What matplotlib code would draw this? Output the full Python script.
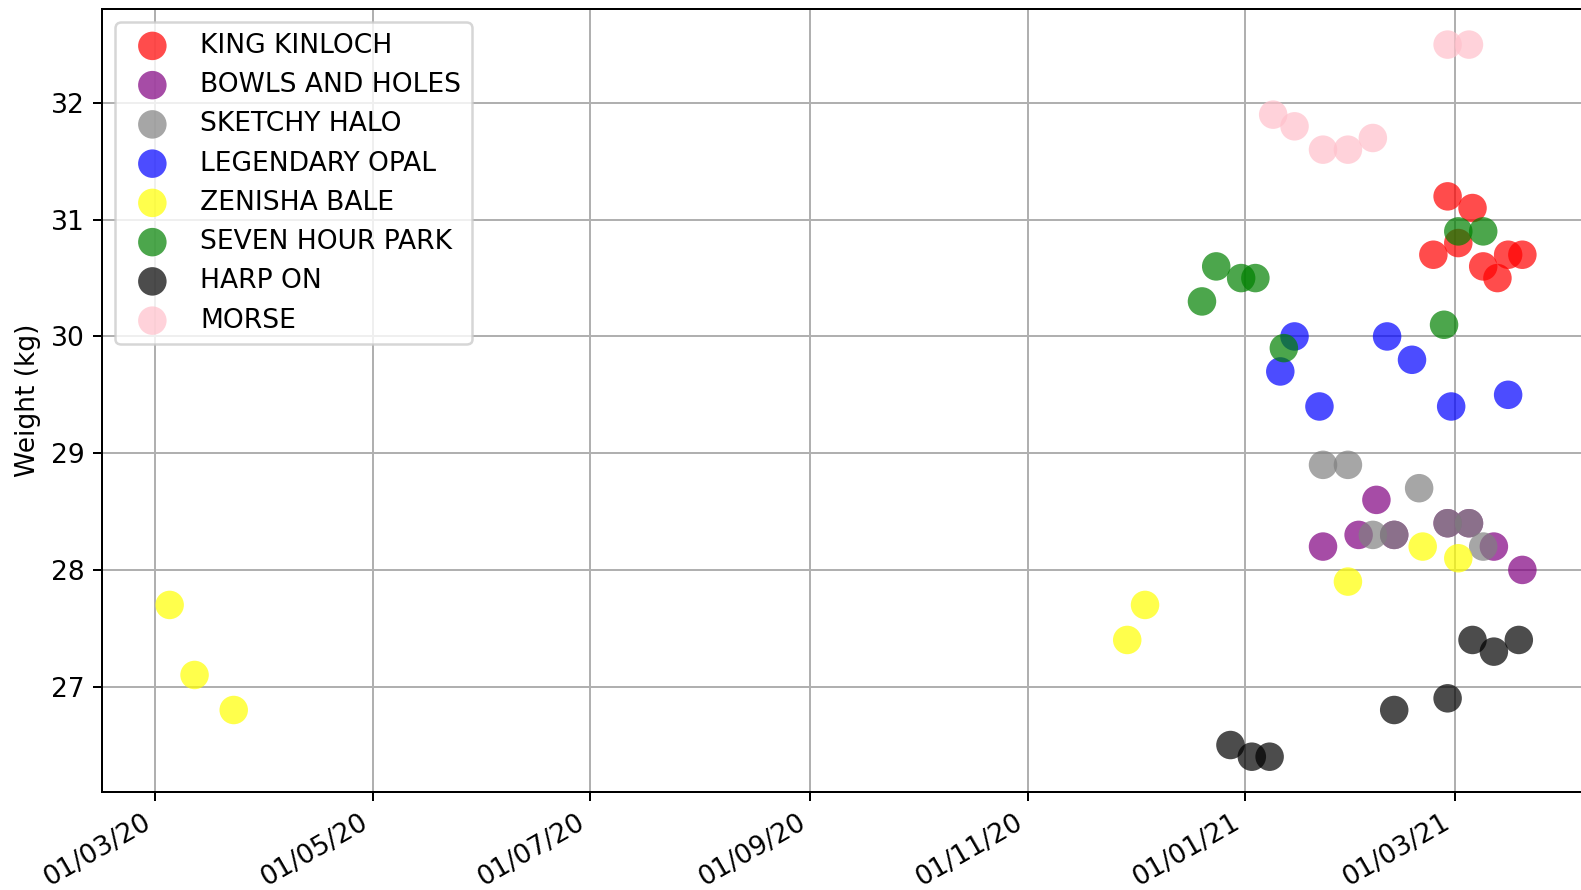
import matplotlib
matplotlib.use("Agg")
import matplotlib.pyplot as plt
import matplotlib.dates as mdates
import pandas as pd

plt.rcParams["font.size"] = 10.6

names = ["KING KINLOCH", "BOWLS AND HOLES", "SKETCHY HALO", "LEGENDARY OPAL",
         "ZENISHA BALE", "SEVEN HOUR PARK", "HARP ON", "MORSE"]
colors = ["red", "purple", "gray", "blue", "yellow", "green", "black", "pink"]

king_dates = ["2021-02-23", "2021-02-27", "2021-03-02", "2021-03-06", "2021-03-09",
              "2021-03-13", "2021-03-16", "2021-03-20"]
king_w = [30.7, 31.2, 30.8, 31.1, 30.6, 30.5, 30.7, 30.7]

bowls_dates = ["2021-01-23", "2021-02-02", "2021-02-07", "2021-02-12", "2021-02-27",
               "2021-03-05", "2021-03-12", "2021-03-20"]
bowls_w = [28.2, 28.3, 28.6, 28.3, 28.4, 28.4, 28.2, 28.0]

sketchy_dates = ["2021-01-23", "2021-01-30", "2021-02-06", "2021-02-12", "2021-02-19",
                 "2021-02-27", "2021-03-05", "2021-03-09"]
sketchy_w = [28.9, 28.9, 28.3, 28.3, 28.7, 28.4, 28.4, 28.2]

opal_dates = ["2021-01-11", "2021-01-15", "2021-01-22", "2021-02-10", "2021-02-17",
              "2021-02-28", "2021-03-16"]
opal_w = [29.7, 30.0, 29.4, 30.0, 29.8, 29.4, 29.5]

zenisha_dates = ["2020-03-05", "2020-03-12", "2020-03-23", "2020-11-29", "2020-12-04",
                 "2021-01-30", "2021-02-20", "2021-03-02"]
zenisha_w = [27.7, 27.1, 26.8, 27.4, 27.7, 27.9, 28.2, 28.1]

seven_dates = ["2020-12-20", "2020-12-24", "2020-12-31", "2021-01-04", "2021-01-12",
               "2021-02-26", "2021-03-02", "2021-03-09"]
seven_w = [30.3, 30.6, 30.5, 30.5, 29.9, 30.1, 30.9, 30.9]

harp_dates = ["2020-12-28", "2021-01-03", "2021-01-08", "2021-02-12", "2021-02-27",
              "2021-03-06", "2021-03-12", "2021-03-19"]
harp_w = [26.5, 26.4, 26.4, 26.8, 26.9, 27.4, 27.3, 27.4]

morse_dates = ["2021-01-09", "2021-01-15", "2021-01-23", "2021-01-30", "2021-02-06",
               "2021-02-27", "2021-03-05"]
morse_w = [31.9, 31.8, 31.6, 31.6, 31.7, 32.5, 32.5]

series = [(king_dates, king_w), (bowls_dates, bowls_w), (sketchy_dates, sketchy_w),
          (opal_dates, opal_w), (zenisha_dates, zenisha_w), (seven_dates, seven_w),
          (harp_dates, harp_w), (morse_dates, morse_w)]

dpi = 180
fig = plt.figure(figsize=(1581 / dpi, 890 / dpi), dpi=dpi)
ax = fig.add_axes([102 / 1581, 1 - 792.3 / 890, 1488 / 1581, (792.3 - 9) / 890])

for name, col, (d, w) in zip(names, colors, series):
    ax.scatter(pd.to_datetime(d), w, s=130, color=col, alpha=0.7, label=name,
               edgecolors="none", zorder=3)

ax.grid(True)
ax.set_axisbelow(True)
ax.set_ylabel("Weight (kg)")
ax.xaxis.set_major_locator(mdates.MonthLocator(bymonth=[1, 3, 5, 7, 9, 11]))
ax.xaxis.set_major_formatter(mdates.DateFormatter("%d/%m/%y"))
for lbl in ax.get_xticklabels():
    lbl.set_rotation(30)
    lbl.set_ha("right")
ax.legend(loc="upper left")

fig.savefig("out.png", dpi=dpi)
